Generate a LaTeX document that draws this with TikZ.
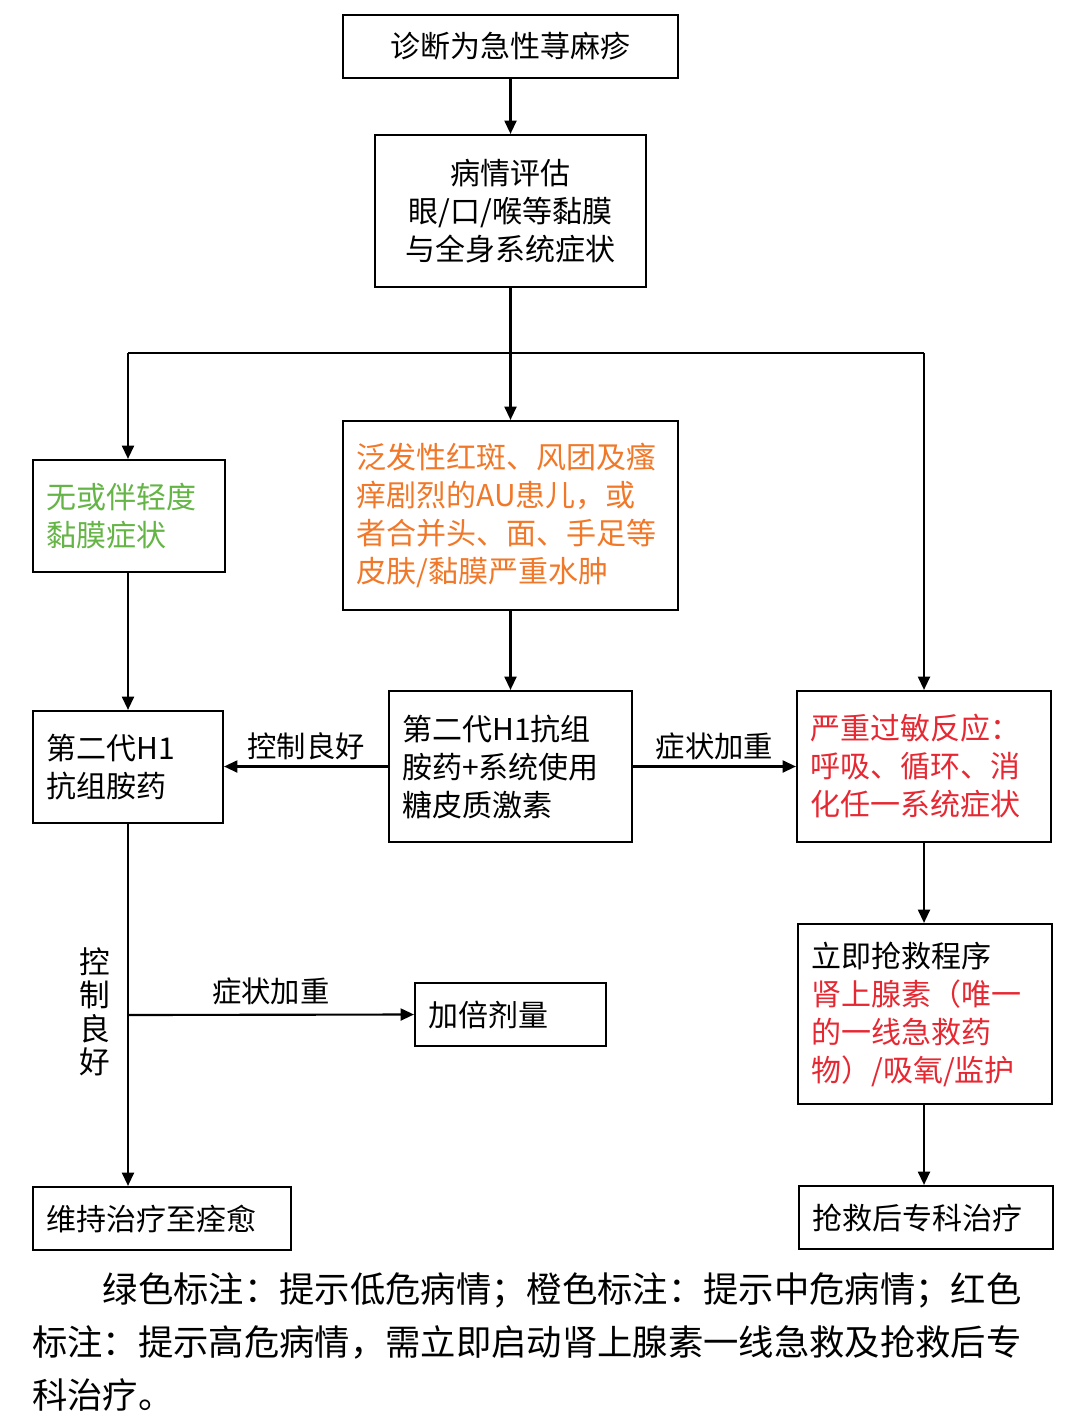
\documentclass[tikz,border=0pt]{standalone}
\usepackage{fontspec}
\setmainfont{Noto Sans CJK SC}
\usetikzlibrary{arrows.meta}
\definecolor{cg}{RGB}{100,180,70}
\definecolor{co}{RGB}{240,120,40}
\definecolor{cr}{RGB}{230,40,50}
\begin{document}
\begin{tikzpicture}[x=0.75pt,y=-0.75pt,
  box/.style={draw,line width=1.6pt,inner xsep=10pt,inner ysep=0pt,font=\fontsize{22.5}{28.5}\selectfont,align=left},
  arr/.style={line width=1.6pt,-{Triangle[length=10pt,width=9pt]}},
  ln/.style={line width=1.6pt},
  lab/.style={font=\fontsize{22}{26}\selectfont}]
\useasboundingbox (0,0) rectangle (1080,1427);
\tikzset{bx/.style n args={2}{box,minimum width=#1*0.75pt,minimum height=#2*0.75pt,text width=#1*0.75pt-20pt}}
\node[bx={335}{63},align=center] (a) at (510.5,46.5) {诊断为急性荨麻疹};
\node[bx={271}{152},align=center] (b) at (510.5,211) {病情评估\\眼/口/喉等黏膜\\与全身系统症状};
\node[bx={192}{112},text=cg] (g) at (129,516) {无或伴轻度\\黏膜症状};
\node[bx={335}{189},text=co] (o) at (510.5,515.5) {泛发性红斑、风团及瘙\\痒剧烈的AU患儿，或\\者合并头、面、手足等\\皮肤/黏膜严重水肿};
\node[bx={190}{112}] (h) at (128,767) {第二代H1\\抗组胺药};
\node[bx={243}{151}] (m) at (510.5,766.5) {第二代H1抗组\\胺药+系统使用\\糖皮质激素};
\node[bx={254}{151},text=cr] (r) at (924,766.5) {严重过敏反应：\\呼吸、循环、消\\化任一系统症状};
\node[bx={191}{63}] (d) at (510.5,1014.5) {加倍剂量};
\node[bx={254}{180}] (e) at (925,1014) {立即抢救程序\\\textcolor{cr}{肾上腺素（唯一}\\\textcolor{cr}{的一线急救药}\\\textcolor{cr}{物）/吸氧/监护}};
\node[bx={258}{63}] (w) at (162,1218.5) {维持治疗至痊愈};
\node[bx={254}{63}] (f) at (926,1217.5) {抢救后专科治疗};
\coordinate (j) at (510.5,353);
\coordinate (jl) at (128,353);
\coordinate (jr) at (924,353);
\coordinate (k) at (128,1015);
\draw[arr] (a) -- (b);
\draw[ln] (b.south) -- (j);
\draw[arr] (j) -- (o);
\draw[ln] (jl) -- (jr);
\draw[arr] (jl) -- (jl|-g.north);
\draw[arr] (jr) -- (jr|-r.north);
\draw[arr] (g.south-|h) -- (h);
\draw[arr] (o) -- (m);
\draw[arr] (m.west) -- node[lab,above=1pt]{控制良好} (h.east|-m.west);
\draw[arr] (m) -- node[lab,above=1pt]{症状加重} (r);
\draw[arr] (r.south-|jr) -- (jr|-e.north);
\draw[arr] (e.south-|jr) -- (jr|-f.north);
\draw[arr] (h.south) -- (h.south|-w.north);
\draw[arr] (k) -- node[lab,above=3pt]{症状加重} (d.west);
\node[lab,font=\fontsize{23}{25}\selectfont,align=center] (v) at (95,1012) {控\\制\\良\\好};
\node[anchor=north west,font=\fontsize{26.5}{40}\selectfont,align=left,text width=780pt,inner sep=0pt] (n) at (32,1272) {\hspace*{53pt}绿色标注：提示低危病情；橙色标注：提示中危病情；红色\\标注：提示高危病情，需立即启动肾上腺素一线急救及抢救后专\\科治疗。};
\end{tikzpicture}
\end{document}
